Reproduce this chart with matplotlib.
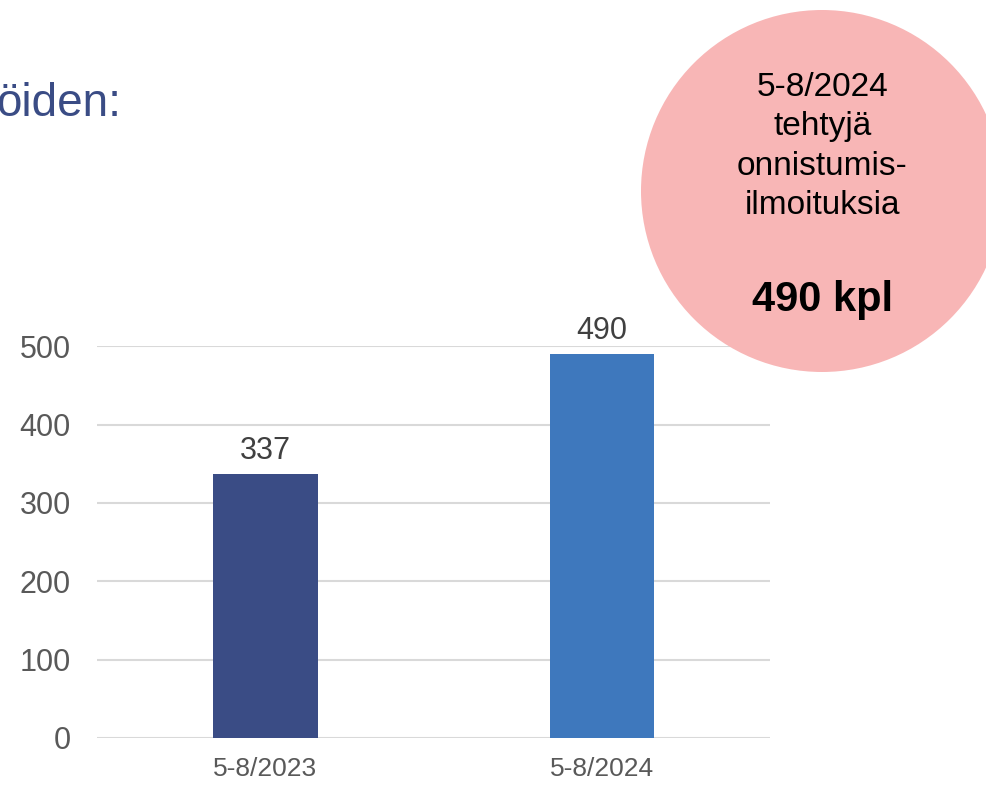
import matplotlib.pyplot as plt
from matplotlib.patches import Circle

plt.rcParams['font.family'] = ['Liberation Sans', 'DejaVu Sans']

# Onnistumisilmoitukset kausittain
periods = ['5-8/2023', '5-8/2024']
counts = [337, 490]
bar_colors = ['#3A4C85', '#3E78BD']
yticks = [0, 100, 200, 300, 400, 500]

fig = plt.figure(figsize=(9.86, 7.88), dpi=100)
ax = fig.add_axes([0.0984, 0.0635, 0.683, 0.497])

x = range(len(periods))
bars = ax.bar(x, counts, width=0.31, color=bar_colors, zorder=3)
for b, v in zip(bars, counts):
    ax.text(b.get_x() + b.get_width() / 2, v + 10, str(v), ha='center', va='bottom',
            fontsize=22, color='#404040', clip_on=False)

ax.set_xlim(-0.5, 1.5)
ax.set_ylim(0, 500)
ax.set_yticks(yticks)
ax.set_xticks(list(x))
ax.set_xticklabels(periods)
ax.grid(axis='y', color='#D9D9D9', linewidth=1.5, zorder=0)
ax.tick_params(axis='y', length=0, pad=19, labelsize=22, labelcolor='#595959')
ax.tick_params(axis='x', length=0, pad=14, labelsize=19, labelcolor='#595959')
for s in ax.spines.values():
    s.set_visible(False)

# otsikon loppu vasemmassa yläkulmassa
fig.text(-0.004, 0.868, 'öiden:', fontsize=33, color='#3A4C85', ha='left', va='center')

# pyöreä huomiolaatikko
circ = Circle((8.22, 5.97), 1.81, transform=fig.dpi_scale_trans,
              facecolor='#F8B6B6', edgecolor='none', zorder=5)
fig.add_artist(circ)
fig.text(0.834, 0.814, '5-8/2024\ntehtyjä\nonnistumis-\nilmoituksia', fontsize=24,
         ha='center', va='center', linespacing=1.35, color='black', zorder=6)
fig.text(0.834, 0.619, '490 kpl', fontsize=30, fontweight='bold',
         ha='center', va='center', color='black', zorder=6)

fig.savefig('out.png', dpi=100)
